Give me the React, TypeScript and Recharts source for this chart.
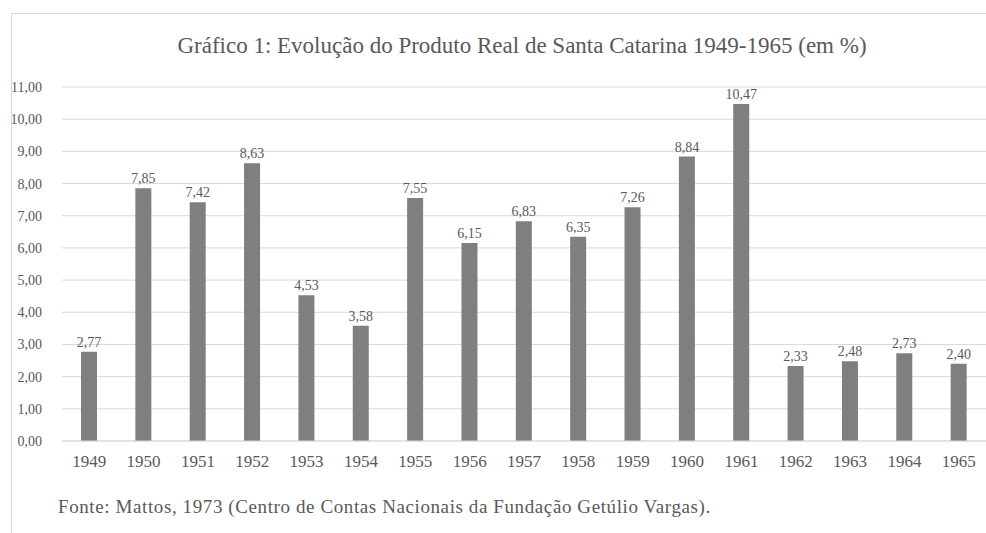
import React from 'react';
import { BarChart, Bar, XAxis, YAxis, CartesianGrid, LabelList } from 'recharts';

// Values
const YEARS = ['1949', '1950', '1951', '1952', '1953', '1954', '1955', '1956', '1957', '1958', '1959', '1960', '1961', '1962', '1963', '1964', '1965'];
const GROWTH = [2.77, 7.85, 7.42, 8.63, 4.53, 3.58, 7.55, 6.15, 6.83, 6.35, 7.26, 8.84, 10.47, 2.33, 2.48, 2.73, 2.4];
const Y_TICKS = [0, 1, 2, 3, 4, 5, 6, 7, 8, 9, 10, 11];

const TITLE = 'Gráfico 1: Evolução do Produto Real de Santa Catarina 1949-1965 (em %)';
const SOURCE = 'Fonte: Mattos, 1973 (Centro de Contas Nacionais da Fundação Getúlio Vargas).';

const FONT = '"Liberation Serif", "DejaVu Serif", serif';
const TEXT_COLOR = '#595959';
const BAR_COLOR = '#7f7f7f';
const GRID_COLOR = '#d9d9d9';

const data = YEARS.map((year, i) => ({ year, value: GROWTH[i] }));

const fmt = (v: any) => Number(v).toFixed(2).replace('.', ',');

export default function App() {
  return (
    <div style={{ position: 'absolute', left: 0, top: 0, width: 986, height: 533, background: '#fff', overflow: 'hidden', fontFamily: FONT }}>
      {/* chart frame, cut off on the right and bottom */}
      <div
        style={{
          position: 'absolute',
          left: 11,
          top: 13,
          width: 1000,
          height: 540,
          borderTop: `1px solid ${GRID_COLOR}`,
          borderLeft: `1px solid ${GRID_COLOR}`,
        }}
      />
      <div
        style={{
          position: 'absolute',
          left: 0,
          width: 1044,
          top: 34,
          lineHeight: 1,
          textAlign: 'center',
          fontSize: 23,
          color: TEXT_COLOR,
          whiteSpace: 'nowrap',
        }}
      >
        {TITLE}
      </div>
      <div style={{ position: 'absolute', left: 0, top: 0 }}>
        <BarChart
          width={986}
          height={533}
          data={data}
          margin={{ top: 87, right: 0, left: 0, bottom: 62 }}
          barCategoryGap={0}
        >
          <CartesianGrid vertical={false} stroke={GRID_COLOR} strokeWidth={1} />
          <XAxis
            dataKey="year"
            height={30}
            tickLine={false}
            axisLine={{ stroke: GRID_COLOR }}
            tick={{ fontSize: 17, fill: TEXT_COLOR, fontFamily: FONT }}
            tickMargin={8}
            interval={0}
          />
          <YAxis
            width={62}
            domain={[0, 11]}
            ticks={Y_TICKS}
            tickFormatter={fmt}
            tickLine={false}
            axisLine={false}
            tick={{ fontSize: 14, fill: TEXT_COLOR, fontFamily: FONT }}
            tickMargin={14}
          />
          <Bar dataKey="value" fill={BAR_COLOR} barSize={16} isAnimationActive={false}>
            <LabelList
              dataKey="value"
              position="top"
              formatter={fmt}
              style={{ fontSize: 14, fill: TEXT_COLOR, fontFamily: FONT }}
            />
          </Bar>
        </BarChart>
      </div>
      <div
        style={{
          position: 'absolute',
          left: 58,
          top: 497,
          lineHeight: 1,
          fontSize: 19,
          letterSpacing: 0.6,
          color: TEXT_COLOR,
          whiteSpace: 'nowrap',
        }}
      >
        {SOURCE}
      </div>
    </div>
  );
}
